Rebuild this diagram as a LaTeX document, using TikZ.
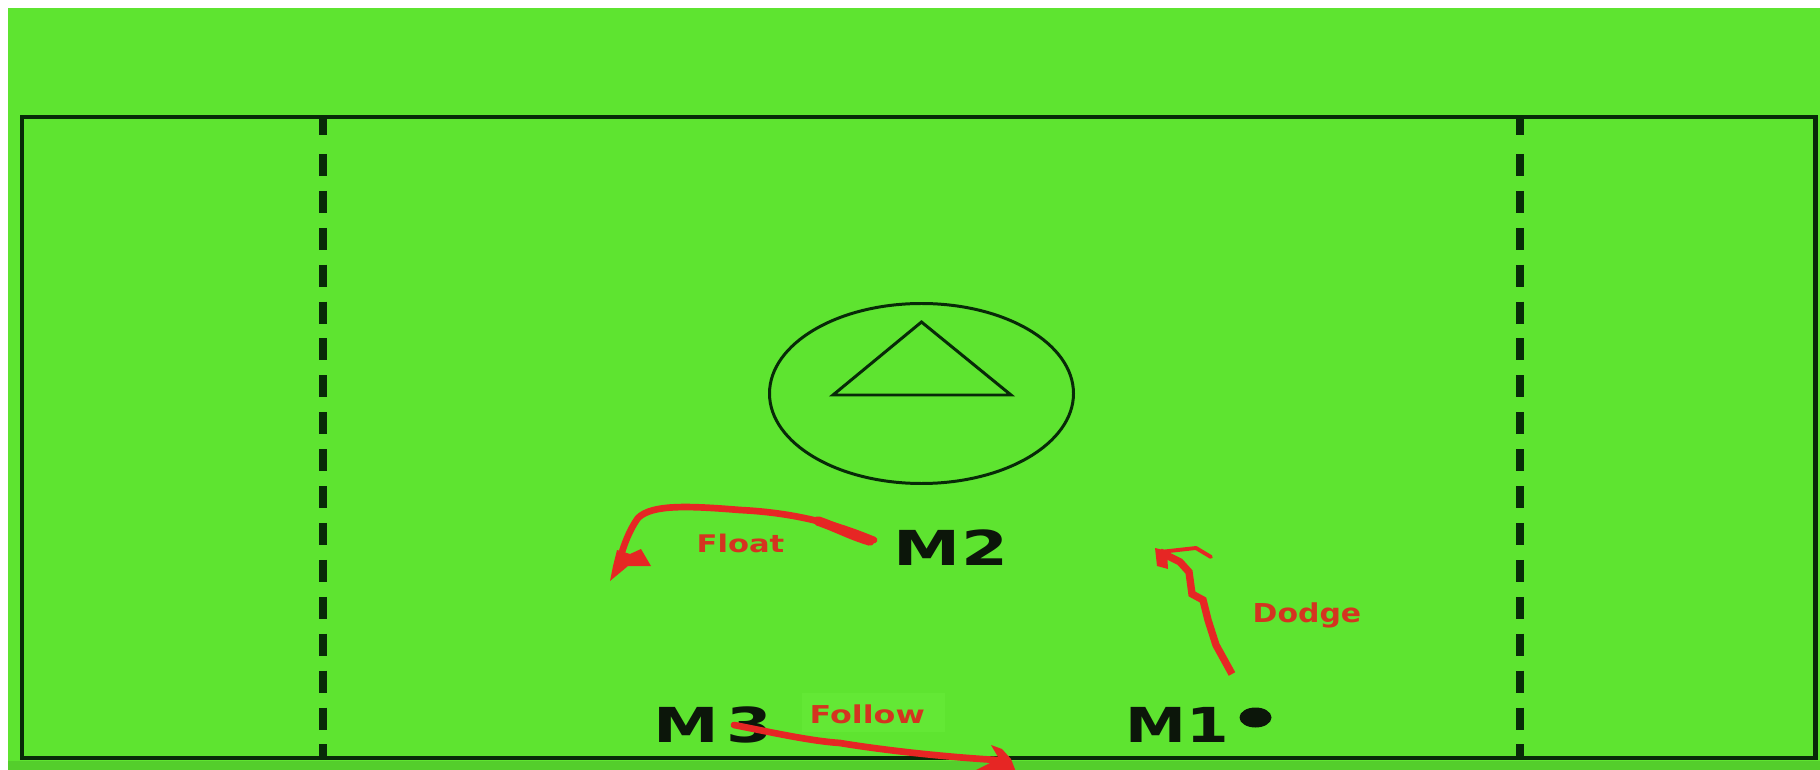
\documentclass[tikz,border=0pt]{standalone}
\usepackage{fontspec}
\setmainfont{DejaVu Sans}
\usepackage{graphicx}
\definecolor{pitch}{RGB}{94,228,48}
\definecolor{pitchdark}{RGB}{84,206,44}
\definecolor{pitchlight}{RGB}{99,232,53}
\definecolor{lineink}{RGB}{8,42,8}
\definecolor{markred}{RGB}{230,38,36}
\definecolor{labelred}{RGB}{212,52,32}
\definecolor{labelink}{RGB}{12,22,10}
% horizontally widened text
\newcommand{\widetext}[2]{\scalebox{#1}[1]{#2}}

\begin{document}
\begin{tikzpicture}[x=0.01cm,y=-0.01cm,
  fieldline/.style={draw=lineink, line width=1.42pt},
  dashseg/.style={draw=lineink, line width=2pt, line cap=butt},
  thinline/.style={draw=lineink, line width=0.85pt},
  player/.style={inner sep=0pt, text=labelink, font=\bfseries\fontsize{13.7pt}{14pt}\selectfont},
  movelabel/.style={inner sep=0pt, anchor=base west, text=labelred},
  movestroke/.style={draw=markred, line cap=round, line join=round},
  movehead/.style={fill=markred}]

\useasboundingbox (0,0) rectangle (1820,770);

% ground
\fill[white] (0,0) rectangle (1820,770);
\fill[pitch] (8,8) rectangle (1820,770);
\fill[pitchdark] (8,761) rectangle (1820,770);

% field outline
\draw[fieldline] (22,117) rectangle (1815,758);

% restraining lines, drawn dash by dash
\foreach \lx in {323,1520} {
  \draw[dashseg] (\lx,117) -- (\lx,135);
  \foreach \k in {0,...,16} {
    \pgfmathsetmacro\ya{154+36.9*\k}
    \pgfmathsetmacro\yb{min(176+36.9*\k,758)}
    \draw[dashseg] (\lx,\ya) -- (\lx,\yb);
  }
}

% centre circle with goal marker
\draw[thinline] (921.5,393.5) ellipse [x radius=152, y radius=90];
\draw[thinline, line join=miter] (921.5,322) -- (1011,395) -- (833,395) -- cycle;

% faint backing under the follow label
\fill[pitchlight] (802,693) rectangle (945,732);

% players
\node[player] (m2) at (951,547.5) {\widetext{1.4}{M2}};
\node[player] (m3) at (713,725) {\widetext{1.37}{M\kern0.12em 3}};
\node[player] (m1) at (1177,725) {\widetext{1.27}{M1}};
\fill[labelink] (1255.5,717.5) ellipse [x radius=16, y radius=10];

% movement labels
\node[movelabel, font=\bfseries\fontsize{6.9pt}{7pt}\selectfont] (float) at (696,552) {\widetext{1.26}{Float}};
\node[movelabel, font=\bfseries\fontsize{7.4pt}{8pt}\selectfont] (dodge) at (1252,622) {\widetext{1.15}{Dodge}};
\node[movelabel, font=\bfseries\fontsize{7.0pt}{8pt}\selectfont] (follow) at (809,723) {\widetext{1.29}{Follow}};

% float path of M2
\coordinate (fa) at (874,540);
\coordinate (fb) at (740,510);
\coordinate (fc) at (638,518);
\coordinate (fd) at (619,562);
\draw[movestroke, line width=1.9pt] (fa) .. controls (840,526) and (800,513) .. (fb)
  .. controls (690,506) and (652,504) .. (fc) .. controls (628,532) and (623,548) .. (fd);
\draw[movestroke, line width=2.7pt] (870,541) .. controls (850,535) and (838,528) .. (818,521);
\fill[movehead] (610,581) -- (628,566) -- (651,566) -- (641,549) -- (630,554) -- (617,550) -- (613,566) -- cycle;

% dodge path of M1
\coordinate (da) at (1232,674);
\coordinate (dt) at (1160,552);
\draw[movestroke, line width=2.1pt, line cap=butt, line join=miter]
  (da) -- (1216,645) -- (1208,620) -- (1203,600) -- (1192,594) -- (1189,572) -- (1180,562) -- (dt);
\draw[movestroke, line width=1.1pt] (dt) -- (1196,548) -- (1211,557);
\fill[movehead] (1155,548) -- (1167,551) -- (1168,569) -- (1157,566) -- cycle;

% follow path of M3
\coordinate (ga) at (734,725);
\coordinate (gb) at (997,760);
\draw[movestroke, line width=1.9pt] (ga) .. controls (770,732) and (810,741) .. (840,743)
  .. controls (870,748) and (930,756) .. (gb);
\begin{scope}
  \clip (0,0) rectangle (1820,770);
  \fill[movehead] (991,745) -- (1002,749) -- (1011,759) -- (1016,772) -- (972,772) -- (990,763) -- (998,757) -- cycle;
\end{scope}
\end{tikzpicture}
\end{document}
